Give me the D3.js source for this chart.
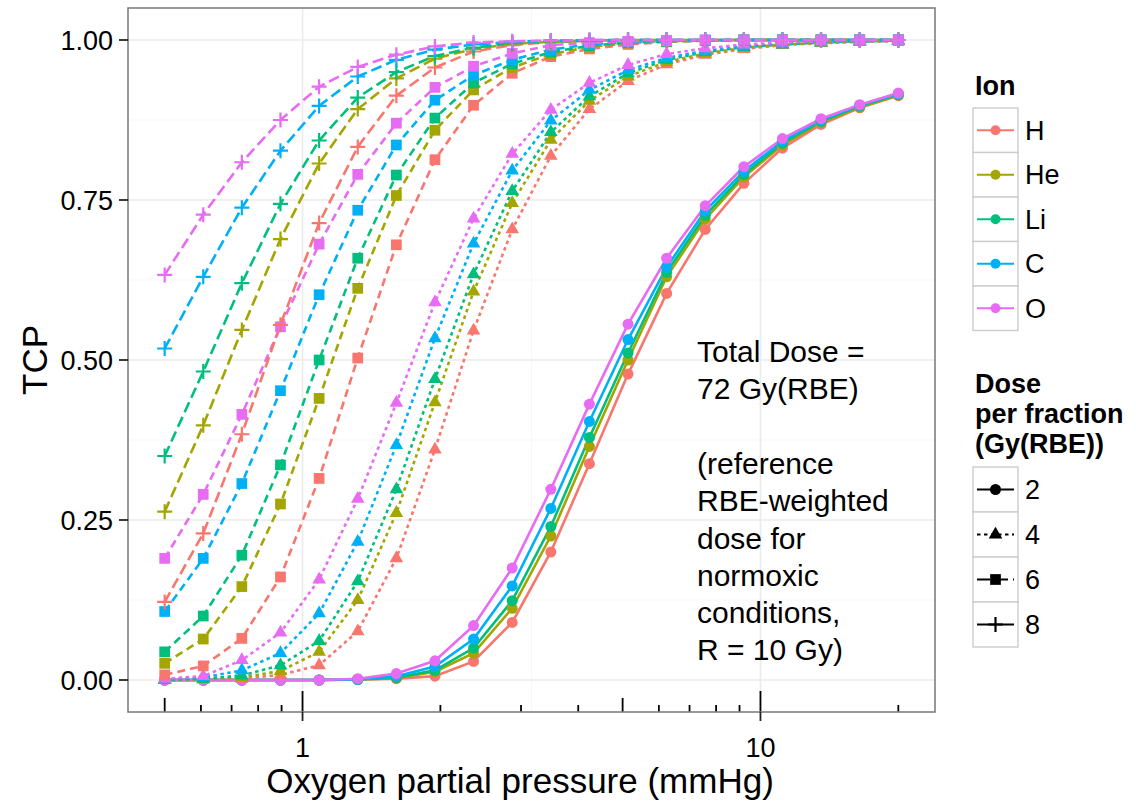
<!DOCTYPE html>
<html><head><meta charset="utf-8">
<script src="https://cdn.jsdelivr.net/npm/d3@7/dist/d3.min.js"></script>
<style>body{margin:0;background:#fff}svg{display:block;font-family:"Liberation Sans",Arial,Helvetica,sans-serif}</style>
</head><body><svg id="c" width="1136" height="804"></svg>
<script>
// ---- data ----
const pO2 = [0.5,0.607,0.737,0.895,1.087,1.320,1.603,1.946,2.363,2.870,3.485,4.231,5.138,6.239,7.576,9.200,11.17,13.56,16.47,20.0];
const ions = ["H","He","Li","C","O"];
const ionColors = ["#F8766D","#A3A500","#00BF7D","#00B0F6","#E76BF3"];
const doses = ["2","4","6","8"];
const yTicks = [0,0.25,0.5,0.75,1];
const xTicks = [1,10];

const tcp_H_2  = [0,0,0,0,0,0.0005,0.002,0.006,0.029,0.090,0.200,0.338,0.478,0.604,0.704,0.776,0.831,0.868,0.894,0.913];
const tcp_He_2 = [0,0,0,0,0,0.0007,0.003,0.013,0.042,0.112,0.225,0.365,0.500,0.630,0.720,0.786,0.836,0.871,0.895,0.914];
const tcp_Li_2 = [0,0,0,0,0,0.0008,0.004,0.015,0.050,0.124,0.240,0.379,0.511,0.637,0.726,0.790,0.839,0.873,0.897,0.915];
const tcp_C_2  = [0,0,0,0,0,0.001,0.006,0.021,0.064,0.147,0.268,0.404,0.532,0.645,0.733,0.795,0.842,0.875,0.898,0.916];
const tcp_O_2  = [0,0,0,0,0,0.002,0.010,0.030,0.085,0.175,0.298,0.431,0.556,0.659,0.741,0.802,0.846,0.877,0.899,0.917];

const tcp_H_4  = [0,0.001,0.002,0.008,0.023,0.076,0.190,0.360,0.546,0.704,0.819,0.892,0.936,0.962,0.977,0.986,0.992,0.995,0.997,0.998];
const tcp_He_4 = [0,0.001,0.004,0.014,0.044,0.125,0.261,0.434,0.607,0.745,0.844,0.905,0.943,0.966,0.979,0.988,0.993,0.996,0.998,0.999];
const tcp_Li_4 = [0.0005,0.002,0.007,0.023,0.061,0.154,0.298,0.470,0.634,0.764,0.856,0.912,0.948,0.969,0.981,0.989,0.993,0.996,0.998,0.999];
const tcp_C_4  = [0.001,0.004,0.015,0.042,0.104,0.216,0.367,0.534,0.682,0.796,0.874,0.922,0.953,0.972,0.983,0.990,0.994,0.997,0.998,0.999];
const tcp_O_4  = [0.002,0.006,0.031,0.074,0.157,0.283,0.433,0.590,0.721,0.822,0.891,0.933,0.961,0.978,0.987,0.993,0.996,0.998,0.999,1.0];

const tcp_H_6  = [0.008,0.022,0.065,0.161,0.315,0.503,0.680,0.813,0.898,0.948,0.974,0.986,0.993,0.997,0.999,1,1,1,1,1];
const tcp_He_6 = [0.026,0.064,0.146,0.275,0.440,0.612,0.757,0.859,0.922,0.957,0.978,0.989,0.995,0.998,0.999,1,1,1,1,1];
const tcp_Li_6 = [0.044,0.100,0.195,0.336,0.500,0.659,0.789,0.878,0.933,0.963,0.981,0.991,0.996,0.998,0.999,1,1,1,1,1];
const tcp_C_6  = [0.107,0.190,0.307,0.452,0.602,0.734,0.836,0.906,0.945,0.969,0.985,0.993,0.997,0.999,1,1,1,1,1,1];
const tcp_O_6  = [0.190,0.290,0.415,0.552,0.681,0.790,0.870,0.926,0.959,0.979,0.992,0.996,0.998,0.999,1,1,1,1,1,1];

const tcp_H_8  = [0.122,0.229,0.384,0.555,0.714,0.833,0.913,0.957,0.982,0.992,0.997,0.999,1,1,1,1,1,1,1,1];
const tcp_He_8 = [0.263,0.398,0.547,0.689,0.807,0.892,0.940,0.971,0.986,0.994,0.997,0.999,1,1,1,1,1,1,1,1];
const tcp_Li_8 = [0.350,0.482,0.620,0.744,0.843,0.910,0.950,0.975,0.988,0.995,0.998,0.999,1,1,1,1,1,1,1,1];
const tcp_C_8  = [0.518,0.630,0.738,0.827,0.897,0.943,0.969,0.985,0.993,0.997,0.999,1,1,1,1,1,1,1,1,1];
const tcp_O_8  = [0.633,0.727,0.809,0.875,0.927,0.958,0.977,0.990,0.996,0.998,0.999,1,1,1,1,1,1,1,1,1];

const annotationLines = ["Total Dose =","72 Gy(RBE)","","(reference","RBE-weighted","dose for","normoxic","conditions,","R = 10 Gy)"];

const tcpTable = {
  "2": [tcp_H_2,tcp_He_2,tcp_Li_2,tcp_C_2,tcp_O_2],
  "4": [tcp_H_4,tcp_He_4,tcp_Li_4,tcp_C_4,tcp_O_4],
  "6": [tcp_H_6,tcp_He_6,tcp_Li_6,tcp_C_6,tcp_O_6],
  "8": [tcp_H_8,tcp_He_8,tcp_Li_8,tcp_C_8,tcp_O_8]
};

// ---- layout ----
const P = {l:128, r:935, t:8, b:712};
const svg = d3.select("#c");
const lx0 = Math.log10(d3.min(pO2)), lx1 = Math.log10(d3.max(pO2)), ex = (lx1-lx0)*0.05;
const x = d3.scaleLog().domain([Math.pow(10,lx0-ex), Math.pow(10,lx1+ex)]).range([P.l,P.r]);
const y = d3.scaleLinear().domain([-0.05,1.05]).range([P.b,P.t]);

const dashes = {"2":null,"4":"3.5,3.5","6":"8,5","8":"11,5"};
const legendDashes = {"2":null,"4":"3.5,3.5","6":"13,5","8":null};

// grid
const g = svg.append("g");
g.append("rect").attr("x",P.l).attr("y",P.t).attr("width",P.r-P.l).attr("height",P.b-P.t).attr("fill","#fff");
const minorY = [0.125,0.375,0.625,0.875];
g.selectAll(".mny").data(minorY).join("line").attr("x1",P.l).attr("x2",P.r)
  .attr("y1",d=>y(d)).attr("y2",d=>y(d)).attr("stroke","#F7F7F7").attr("stroke-width",1.2);
const minorX = [Math.sqrt(10)];
g.selectAll(".mnx").data(minorX).join("line").attr("y1",P.t).attr("y2",P.b)
  .attr("x1",d=>x(d)).attr("x2",d=>x(d)).attr("stroke","#F7F7F7").attr("stroke-width",1.2);
g.selectAll(".mjy").data(yTicks).join("line").attr("x1",P.l).attr("x2",P.r)
  .attr("y1",d=>y(d)).attr("y2",d=>y(d)).attr("stroke","#EBEBEB").attr("stroke-width",1.6);
g.selectAll(".mjx").data(xTicks).join("line").attr("y1",P.t).attr("y2",P.b)
  .attr("x1",d=>x(d)).attr("x2",d=>x(d)).attr("stroke","#EBEBEB").attr("stroke-width",1.6);

// log ticks
const logTicks = [];
[0.1,1,10].forEach(dec=>{for(let k=1;k<=9;k++){const v=k*dec; if(x(v)>=P.l && x(v)<=P.r) logTicks.push({v,len:k===1?21:(k===5?14:7)});}});
g.selectAll(".lt").data(logTicks).join("line").attr("x1",d=>x(d.v)).attr("x2",d=>x(d.v))
  .attr("y1",P.b).attr("y2",d=>P.b-d.len).attr("stroke","#000").attr("stroke-width",1.8);

// annotation text
const ann = svg.append("text").attr("x",697).attr("y",362).attr("font-size",30).attr("fill","#000");
annotationLines.forEach((s,i)=>ann.append("tspan").attr("x",697).attr("y",362+i*37.3).text(s));

// series
const clip = svg.append("clipPath").attr("id","clp").append("rect").attr("x",P.l).attr("y",P.t).attr("width",P.r-P.l).attr("height",P.b-P.t);
const series = [];
doses.forEach(d=>ions.forEach((ion,i)=>series.push({dose:d, ion, color:ionColors[i], vals:tcpTable[d][i]})));
const line = d3.line().x((v,i)=>x(pO2[i])).y(v=>y(v));
const lines = svg.append("g").attr("clip-path","url(#clp)");
lines.selectAll("path").data(series).join("path").attr("d",s=>line(s.vals)).attr("fill","none")
  .attr("stroke",s=>s.color).attr("stroke-width",2.6).attr("stroke-dasharray",s=>dashes[s.dose]);

const sym = {
  "2": d3.symbol().type(d3.symbolCircle).size(95)(),
  "4": d3.symbol().type(d3.symbolTriangle).size(80)(),
  "6": d3.symbol().type(d3.symbolSquare).size(115)(),
  "8": "M-7.5,0H7.5M0,-7.5V7.5"
};
function drawMark(sel, dose, color){
  const p = sel.append("path").attr("d",sym[dose]);
  if(dose==="8") p.attr("fill","none").attr("stroke",color).attr("stroke-width",2.2);
  else p.attr("fill",color);
}
const pts = svg.append("g").attr("clip-path","url(#clp)");
series.forEach(s=>{
  s.vals.forEach((v,i)=>{
    const gg = pts.append("g").attr("transform",`translate(${x(pO2[i])},${y(v)})`);
    drawMark(gg, s.dose, s.color);
  });
});

// panel border
svg.append("rect").attr("x",P.l).attr("y",P.t).attr("width",P.r-P.l).attr("height",P.b-P.t)
  .attr("fill","none").attr("stroke","#7F7F7F").attr("stroke-width",1.6);

// axes
svg.selectAll(".yt").data(yTicks).join("line").attr("x1",P.l-9).attr("x2",P.l).attr("y1",d=>y(d)).attr("y2",d=>y(d)).attr("stroke","#222").attr("stroke-width",1.8);
svg.selectAll(".ytl").data(yTicks).join("text").attr("x",P.l-15).attr("y",d=>y(d)).attr("dy","0.36em")
  .attr("text-anchor","end").attr("font-size",27).attr("fill","#000").text(d=>d3.format(".2f")(d));
svg.selectAll(".xt").data(xTicks).join("line").attr("x1",d=>x(d)).attr("x2",d=>x(d)).attr("y1",P.b).attr("y2",P.b+9).attr("stroke","#222").attr("stroke-width",1.8);
svg.selectAll(".xtl").data(xTicks).join("text").attr("x",d=>x(d)).attr("y",P.b+45)
  .attr("text-anchor","middle").attr("font-size",27).attr("fill","#000").text(d=>d);
svg.append("text").attr("x",520).attr("y",793).attr("text-anchor","middle").attr("font-size",35).attr("fill","#000").text("Oxygen partial pressure (mmHg)");
svg.append("text").attr("transform",`translate(47,${(P.t+P.b)/2}) rotate(-90)`).attr("text-anchor","middle").attr("font-size",35).attr("fill","#000").text("TCP");

// legends
const L = {x:973, w:45, kh:44.5};
const lg = svg.append("g");
lg.append("text").attr("x",975).attr("y",95).attr("font-size",27).attr("font-weight","bold").text("Ion");
ions.forEach((ion,i)=>{
  const top = 108 + i*L.kh;
  lg.append("rect").attr("x",L.x).attr("y",top).attr("width",L.w).attr("height",L.kh).attr("fill","#fff").attr("stroke","#CCCCCC").attr("stroke-width",1.4);
  lg.append("line").attr("x1",L.x+4).attr("x2",L.x+L.w-4).attr("y1",top+L.kh/2).attr("y2",top+L.kh/2).attr("stroke",ionColors[i]).attr("stroke-width",2.2);
  lg.append("circle").attr("cx",L.x+L.w/2).attr("cy",top+L.kh/2).attr("r",5).attr("fill",ionColors[i]);
  lg.append("text").attr("x",1025).attr("y",top+L.kh/2).attr("dy","0.36em").attr("font-size",27).text(ion);
});
["Dose","per fraction","(Gy(RBE))"].forEach((s,i)=>lg.append("text").attr("x",975).attr("y",393+i*30).attr("font-size",27).attr("font-weight","bold").text(s));
doses.forEach((d,i)=>{
  const top = 467 + i*45;
  lg.append("rect").attr("x",L.x).attr("y",top).attr("width",L.w).attr("height",45).attr("fill","#fff").attr("stroke","#CCCCCC").attr("stroke-width",1.4);
  lg.append("line").attr("x1",L.x+4).attr("x2",L.x+L.w-4).attr("y1",top+22.5).attr("y2",top+22.5).attr("stroke","#000").attr("stroke-width",2.2).attr("stroke-dasharray",legendDashes[d]);
  const gg = lg.append("g").attr("transform",`translate(${L.x+L.w/2},${top+22.5})`);
  drawMark(gg, d, "#000");
  lg.append("text").attr("x",1025).attr("y",top+22.5).attr("dy","0.36em").attr("font-size",27).text(d);
});
</script></body></html>
